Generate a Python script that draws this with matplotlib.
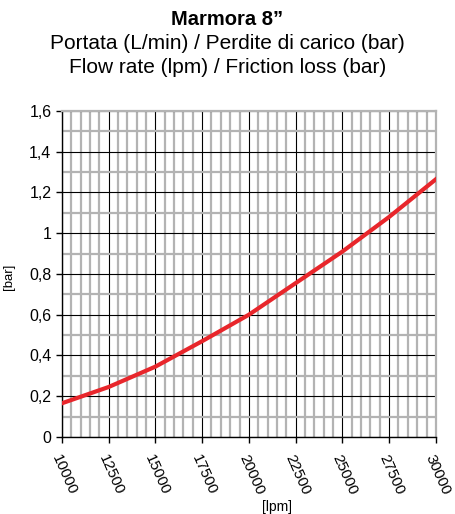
import matplotlib.pyplot as plt
from matplotlib.ticker import MultipleLocator, FuncFormatter

plt.rcParams['font.family'] = ['Liberation Sans', 'DejaVu Sans']

# portata (lpm) e perdite di carico (bar)
flow = [10000, 12500, 15000, 17500, 20000, 22500, 25000, 27500, 30000]
loss = [0.165, 0.245, 0.345, 0.47, 0.6, 0.755, 0.91, 1.08, 1.265]


def virgola(v, pos):
    if abs(v - round(v)) < 1e-9:
        return f'{int(round(v))}'
    return f'{v:.1f}'.replace('.', ',')


fig = plt.figure(figsize=(4.55, 5.14), dpi=100)
ax = fig.add_axes([0.136, 0.150, 0.822, 0.634])

ax.plot(flow, loss, color='#e8262b', linewidth=3, zorder=5)

ax.set_xlim(10000, 30000)
ax.set_ylim(0, 1.6)
ax.xaxis.set_major_locator(MultipleLocator(2500))
ax.xaxis.set_minor_locator(MultipleLocator(500))
ax.yaxis.set_major_locator(MultipleLocator(0.2))
ax.yaxis.set_minor_locator(MultipleLocator(0.1))
ax.yaxis.set_major_formatter(FuncFormatter(virgola))

ax.grid(which='minor', color='#b3b3b3', linewidth=1.6, zorder=1)
ax.grid(which='major', color='black', linewidth=0.8, zorder=2)
ax.set_axisbelow(True)

for s in ['top', 'right']:
    ax.spines[s].set_color('#b3b3b3')
    ax.spines[s].set_linewidth(1.6)
for s in ['left', 'bottom']:
    ax.spines[s].set_color('black')
    ax.spines[s].set_linewidth(1.0)

ax.tick_params(which='major', direction='out', length=4, width=1, labelsize=11.5, colors='black')
ax.tick_params(axis='x', which='major', pad=7, labelsize=11)
ax.tick_params(which='minor', length=0)
for lab in ax.get_xticklabels():
    lab.set_rotation(-66)
    lab.set_ha('left')
    lab.set_va('top')
    lab.set_rotation_mode('anchor')

ax.set_ylabel('[bar]', fontsize=9.5, labelpad=1)
ax.yaxis.set_label_coords(-0.125, 0.49)
ax.set_xlabel('[lpm]', fontsize=10)
ax.xaxis.set_label_coords(0.575, -0.195)

fig.text(0.5, 0.962, 'Marmora 8”', ha='center', va='center', fontsize=14.5, fontweight='bold')
fig.text(0.5, 0.916, 'Portata (L/min) / Perdite di carico (bar)', ha='center', va='center', fontsize=15)
fig.text(0.5, 0.868, 'Flow rate (lpm) / Friction loss (bar)', ha='center', va='center', fontsize=15)

fig.savefig('out.png', dpi=100)
